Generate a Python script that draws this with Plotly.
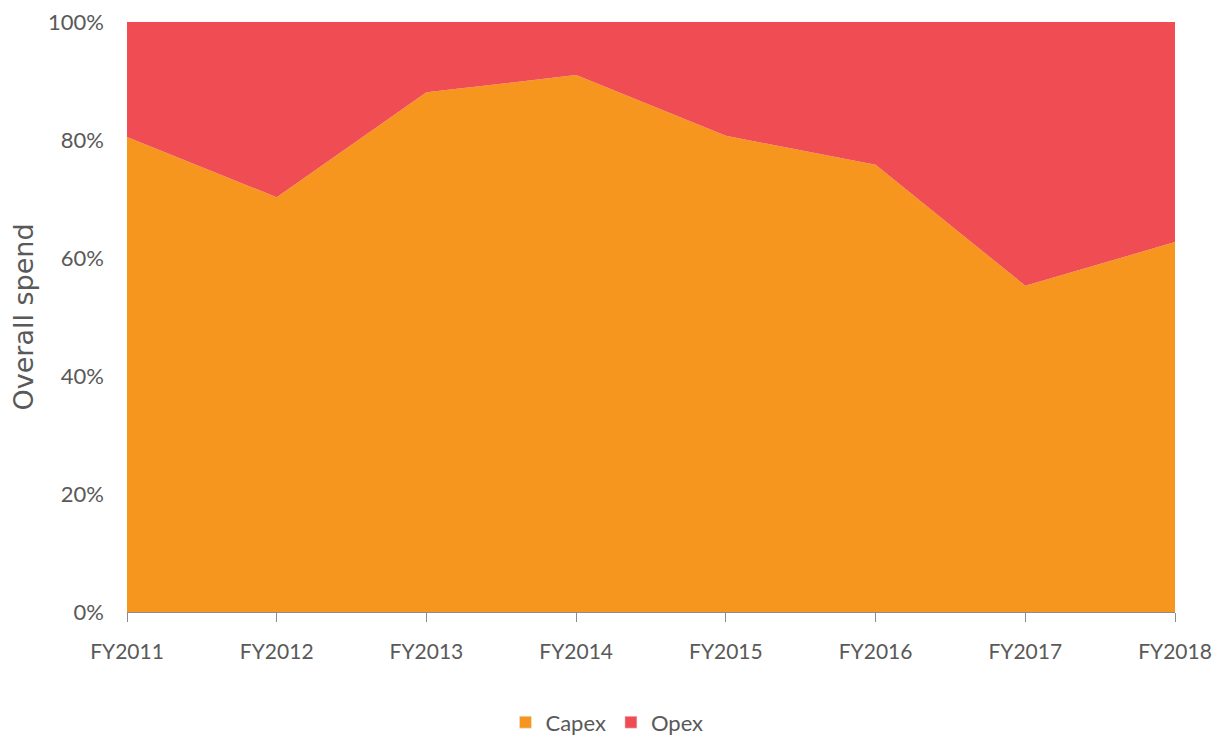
import plotly.graph_objects as go

years = ['FY2011', 'FY2012', 'FY2013', 'FY2014',
         'FY2015', 'FY2016', 'FY2017', 'FY2018']
capex = [80.5, 70.3, 88.1, 91.0, 80.7, 75.8, 55.3, 62.7]
opex = [19.5, 29.7, 11.9, 9.0, 19.3, 24.2, 44.7, 37.3]
y_ticks = [0, 20, 40, 60, 80, 100]
y_labels = ['0%', '20%', '40%', '60%', '80%', '100%']

colors = {'Capex': '#F7961F', 'Opex': '#EF4C53'}
font_main = 'Lato, sans-serif'

fig = go.Figure()

for name, vals in [('Capex', capex), ('Opex', opex)]:
    fig.add_trace(go.Scatter(x=years, y=vals,
                             name=name,
                             mode='lines',
                             stackgroup='one',
                             showlegend=False,
                             line={'width': 0, 'color': colors[name]},
                             fillcolor=colors[name]))

# square legend keys, like the original
for name in ['Capex', 'Opex']:
    fig.add_trace(go.Bar(x=[None], y=[None], name=name,
                         marker_color=colors[name]))

fig.update_layout(width=1226, height=738,
                  margin=dict(l=119, r=59, t=14, b=134, autoexpand=False),
                  paper_bgcolor='white',
                  plot_bgcolor='white',
                  font={'family': font_main, 'color': '#595959', 'size': 21},
                  showlegend=True,
                  legend=dict(orientation='h', xanchor='center', x=0.458,
                              yref='container', yanchor='middle', y=0.032,
                              font_size=22,
                              itemwidth=30,
                              traceorder='normal'),
                  xaxis=dict(type='category',
                             range=[0, 7],
                             automargin=False,
                             showgrid=False,
                             showline=True,
                             linecolor='#8c8c8c',
                             linewidth=1,
                             ticks='outside',
                             ticklen=9,
                             tickcolor='#8c8c8c',
                             ticklabelstandoff=12,
                             zeroline=False),
                  yaxis=dict(range=[0, 100],
                             automargin=False,
                             tickvals=y_ticks,
                             ticktext=y_labels,
                             tickfont_size=22,
                             ticklabeloverflow='allow',
                             showgrid=False,
                             showline=False,
                             zeroline=False,
                             ticklabelstandoff=22,
                             title=dict(text='Overall spend',
                                        font={'family': 'Verdana, DejaVu Sans',
                                              'size': 27,
                                              'color': '#595959'},
                                        standoff=17)))

fig.write_html('out.html')
